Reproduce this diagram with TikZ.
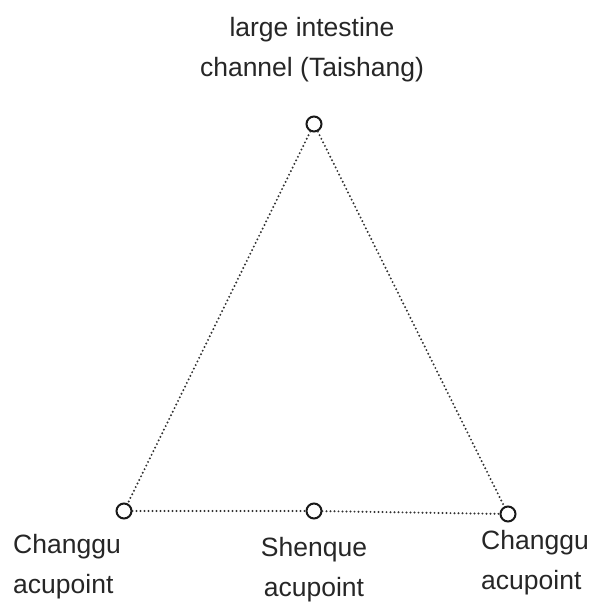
\documentclass[tikz,border=0pt]{standalone}
\usepackage{fontspec}
\setmainfont{Liberation Sans}
\begin{document}
\begin{tikzpicture}[x=1pt,y=-1pt,
  pt/.style={circle,draw=black!90,line width=2pt,minimum size=15pt,inner sep=0pt,fill=white},
  link/.style={draw=black!80,line width=2.2pt,line cap=round,dash pattern=on 0pt off 4pt},
  lbl/.style={text=black!85,font=\fontsize{26.5}{40}\selectfont,inner sep=0pt}]
\useasboundingbox (0,0) rectangle (595,603);
\node[pt] (top) at (314,124) {};
\node[pt] (bl) at (124,511) {};
\node[pt] (bm) at (314,511) {};
\node[pt] (br) at (508,514) {};
\draw[link] (top) -- (bl);
\draw[link] (top) -- (br);
\draw[link] (bl) -- (bm);
\draw[link] (bm) -- (br);
\node[lbl,align=center,anchor=base] (tl) at (312,76) {large intestine\\channel (Taishang)};
\node[lbl,align=left,anchor=base west] (ll) at (13,593) {Changgu\\acupoint};
\node[lbl,align=center,anchor=base] (ml) at (314,596) {Shenque\\acupoint};
\node[lbl,align=left,anchor=base west] (rl) at (481,589) {Changgu\\acupoint};
\end{tikzpicture}
\end{document}
